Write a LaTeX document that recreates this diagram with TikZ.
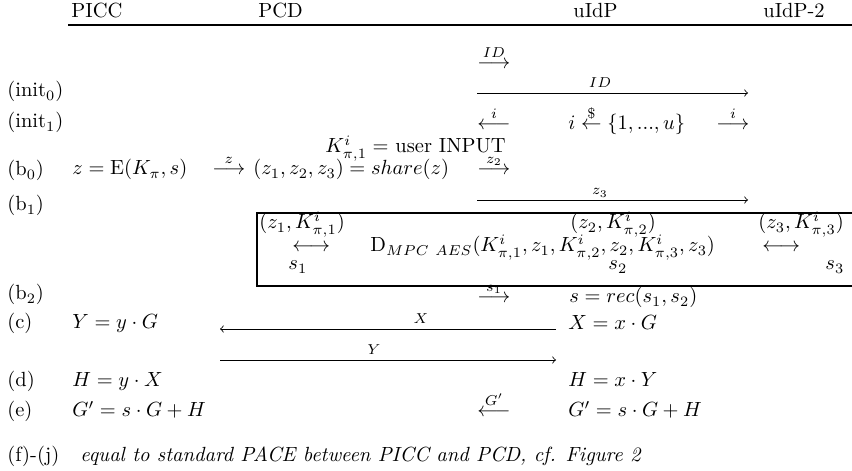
\documentclass[tikz,border=0pt]{standalone}
\usepackage{amsmath}
\begin{document}
\begin{tikzpicture}[x=0.4878pt,y=-0.4878pt,
    entry/.style={anchor=base west,inner sep=0pt},
    msglbl/.style={anchor=base,inner sep=0pt,font=\scriptsize},
    boxline/.style={line width=1.3pt}]
    \useasboundingbox (0,0) rectangle (852,471);

    % header
    \node[entry] (hpicc) at (71,18) {PICC};
    \node[entry] (hpcd) at (258,18) {PCD};
    \node[entry] (huidp) at (573,18) {uIdP};
    \node[entry] (huidptwo) at (763,18) {uIdP-2};
    \coordinate (Hl) at (68,25);
    \coordinate (Hr) at (852,25);
    \draw[line width=1.4pt] (Hl) -- (Hr);

    % init
    \node[entry] (aid) at (477,69) {$\stackrel{ID}{\longrightarrow}$};
    \node[entry] (tinit0) at (7,97) {(init$_0$)};
    \coordinate (IDl) at (477,93);
    \coordinate (IDr) at (748,93);
    \draw[->] (IDl) -- (IDr);
    \node[msglbl] (lid) at (600,88) {$ID$};
    \node[entry] (tinit1) at (7,128) {(init$_1$)};
    \node[entry] (ai) at (477,130) {$\stackrel{i}{\longleftarrow}$};
    \node[entry] (pick) at (568,130) {$i \stackrel{\$}{\leftarrow} \{1, ..., u\}$};
    \node[entry] (aitwo) at (716,130) {$\stackrel{i}{\longrightarrow}$};

    % b0
    \node[entry] (kin) at (325,153) {$K^i_{\pi,1} = $ user INPUT};
    \node[entry] (tb0) at (7,176) {(b$_0$)};
    \node[entry] (enc) at (72,175) {$z = \mathrm{E}(K_\pi, s)$};
    \node[entry] (az) at (212,175) {$\stackrel{z}{\longrightarrow}$};
    \node[entry] (share) at (253,175) {$(z_1, z_2, z_3) = share(z)$};
    \node[entry] (aztwo) at (477,175) {$\stackrel{z_2}{\longrightarrow}$};
    \coordinate (Zl) at (477,200);
    \coordinate (Zr) at (748,200);
    \draw[->] (Zl) -- (Zr);
    \node[msglbl] (lzthree) at (600,195) {$z_3$};

    % b1
    \node[entry] (tb1) at (7,211) {(b$_1$)};
    \coordinate (Btr) at (852,213);
    \coordinate (Btl) at (257,213);
    \coordinate (Bbl) at (257,286);
    \coordinate (Bbr) at (852,286);
    \draw[boxline] (Btr) -- (Btl) -- (Bbl) -- (Bbr);
    \node[entry] (inone) at (259,229) {$(z_1, K^i_{\pi,1})$};
    \node[entry] (intwo) at (570,229) {$(z_2, K^i_{\pi,2})$};
    \node[entry] (inthree) at (758,229) {$(z_3, K^i_{\pi,3})$};
    \node[entry] (aone) at (292,252) {$\longleftrightarrow$};
    \node[entry] (mpc) at (370,252) {$\mathrm{D}_{MPC\ AES}(K^i_{\pi,1}, z_1, K^i_{\pi,2}, z_2, K^i_{\pi,3}, z_3)$};
    \node[entry] (athree) at (762,252) {$\longleftrightarrow$};
    \node[entry] (sone) at (288,270) {$s_1$};
    \node[entry] (stwo) at (608,270) {$s_2$};
    \node[entry] (sthree) at (825,270) {$s_3$};

    % b2
    \node[entry] (tb2) at (7,300) {(b$_2$)};
    \node[entry] (asone) at (477,303) {$\stackrel{s_1}{\longrightarrow}$};
    \node[entry] (rec) at (569,303) {$s = rec(s_1, s_2)$};

    % c
    \node[entry] (tc) at (7,329) {(c)};
    \node[entry] (ypicc) at (72,329) {$Y = y \cdot G$};
    \node[entry] (xuidp) at (568,330) {$X = x \cdot G$};
    \coordinate (Xr) at (556,329);
    \coordinate (Xl) at (220,329);
    \draw[->] (Xr) -- (Xl);
    \node[msglbl] (lx) at (421,324) {$X$};
    \coordinate (Yl) at (220,360);
    \coordinate (Yr) at (556,360);
    \draw[->] (Yl) -- (Yr);
    \node[msglbl] (ly) at (374,355) {$Y$};

    % d
    \node[entry] (td) at (7,387) {(d)};
    \node[entry] (hpicc) at (72,387) {$H = y \cdot X$};
    \node[entry] (huidp) at (568,387) {$H = x \cdot Y$};

    % e
    \node[entry] (te) at (7,417) {(e)};
    \node[entry] (gpicc) at (72,417) {$G' = s \cdot G + H$};
    \node[entry] (ag) at (477,417) {$\stackrel{G'}{\longleftarrow}$};
    \node[entry] (guidp) at (568,417) {$G' = s \cdot G + H$};

    % f-j
    \node[entry] (tf) at (7,462) {(f)-(j)};
    \node[entry] (pace) at (80,462) {\textit{equal to standard PACE between PICC and PCD, cf. Figure 2}};
\end{tikzpicture}
\end{document}
